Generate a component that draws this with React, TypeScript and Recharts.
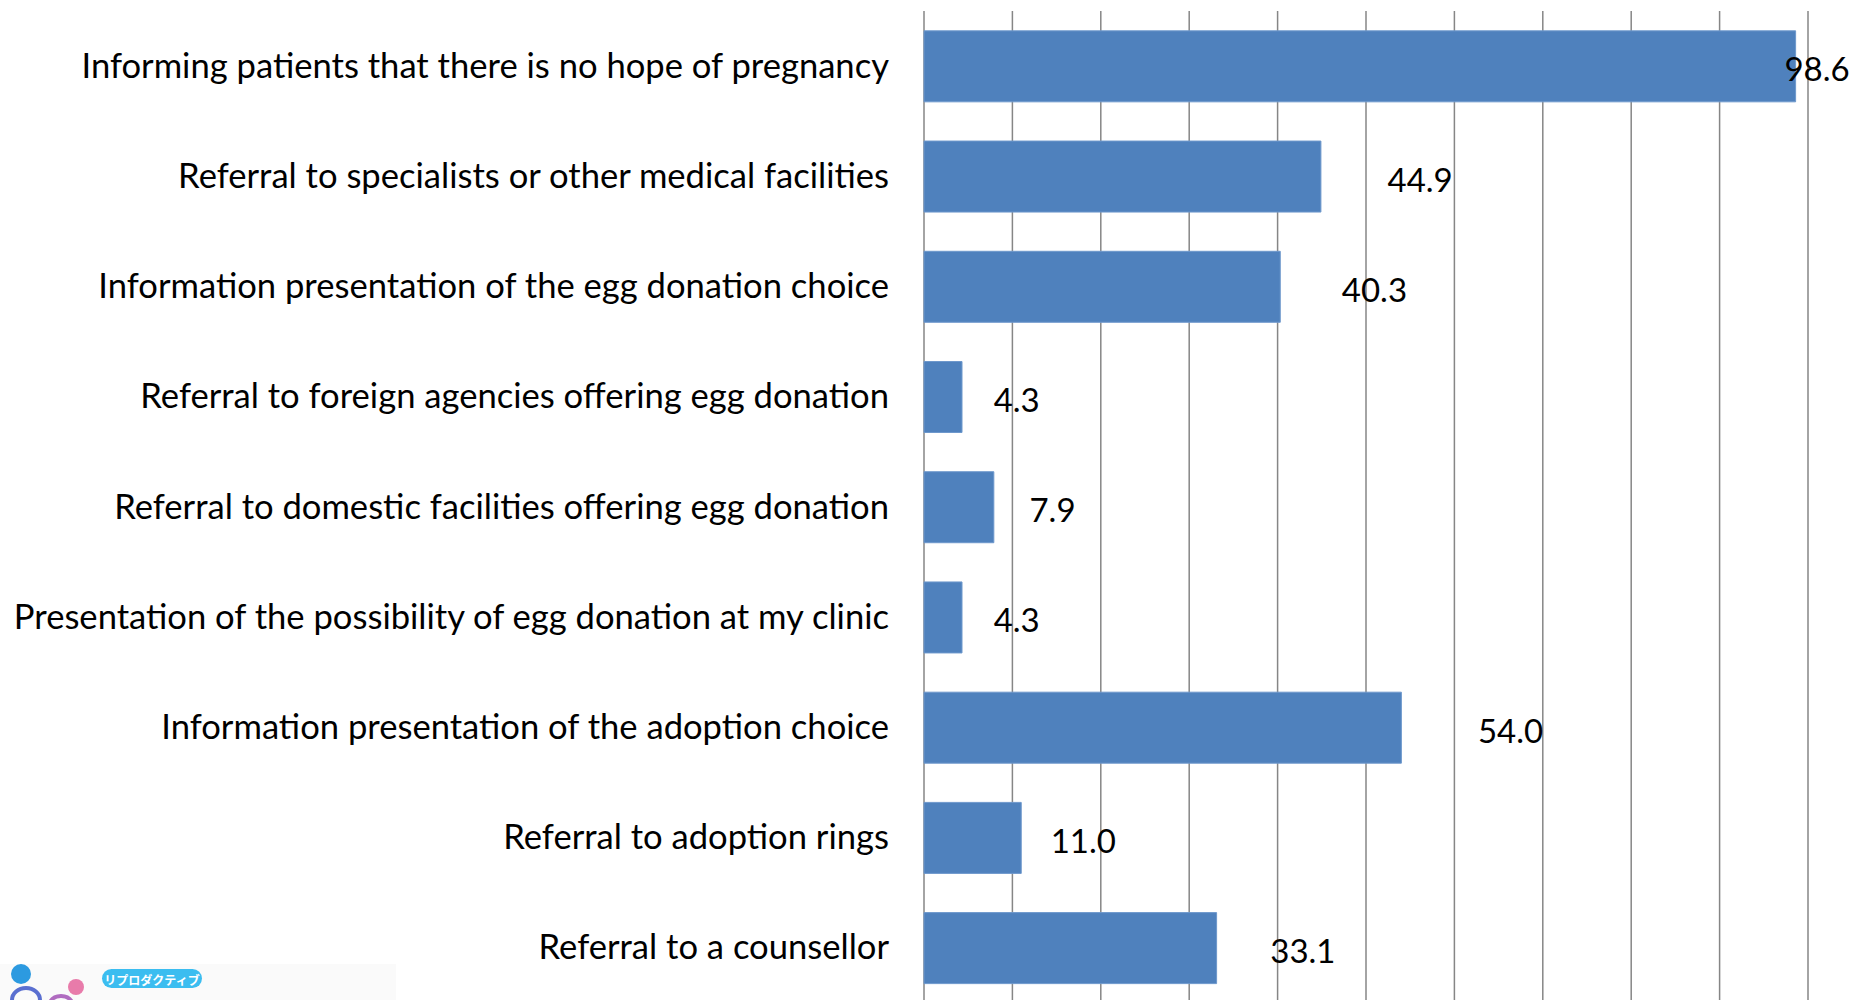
import React from 'react';
import { BarChart, Bar, XAxis, YAxis, CartesianGrid, LabelList } from 'recharts';

const categories = [
  'Informing patients that there is no hope of pregnancy',
  'Referral to specialists or other medical facilities',
  'Information presentation of the egg donation choice',
  'Referral to foreign agencies offering egg donation',
  'Referral to domestic facilities offering egg donation',
  'Presentation of the possibility of egg donation at my clinic',
  'Information presentation of the adoption choice',
  'Referral to adoption rings',
  'Referral to a counsellor',
];
const values = [98.6, 44.9, 40.3, 4.3, 7.9, 4.3, 54.0, 11.0, 33.1];
const xTicks = [0, 10, 20, 30, 40, 50, 60, 70, 80, 90, 100];
const logoBadge = 'リプロダクティブ';

const data = categories.map((name, i) => ({ name, value: values[i] }));

const CHART_W = 1856;
const CHART_H = 1010;
const FONT = 'Lato, "Open Sans", sans-serif';

const CatTick = (props: any) => {
  const { x, y, payload } = props;
  return (
    <text x={x} y={y - 2} textAnchor="end" dominantBaseline="central" fontFamily={FONT} fontSize={34.6} fill="#000">
      {payload.value}
    </text>
  );
};

const ValueLabel = (props: any) => {
  const { x, y, width, height, value } = props;
  const cx = Math.min(x + width * 1.124 + 50, CHART_W - 39);
  return (
    <text x={cx} y={y + height / 2 + 2} textAnchor="middle" dominantBaseline="central" fontFamily={FONT} fontSize={33} fill="#000">
      {Number(value).toFixed(1)}
    </text>
  );
};

export default function App() {
  return (
    <div style={{ position: 'absolute', left: 0, top: 0, width: CHART_W, height: 1000, overflow: 'hidden', background: '#fff' }}>
      <BarChart
        width={CHART_W}
        height={CHART_H}
        data={data}
        layout="vertical"
        margin={{ top: 11, right: 48, bottom: 7, left: 0 }}
        barCategoryGap="18%"
      >
        <CartesianGrid horizontal={false} vertical={true} stroke="#868686" strokeWidth={1.5} />
        <XAxis type="number" domain={[0, 100]} ticks={xTicks} hide />
        <YAxis
          type="category"
          dataKey="name"
          width={924}
          axisLine={false}
          tickLine={false}
          tickSize={0}
          tickMargin={35}
          tick={<CatTick />}
          interval={0}
        />
        <Bar dataKey="value" fill="#4F81BD" stroke="#6E98CC" strokeWidth={1} isAnimationActive={false}>
          <LabelList dataKey="value" content={<ValueLabel />} />
        </Bar>
      </BarChart>
      <svg width={400} height={40} style={{ position: 'absolute', left: 0, top: 962 }}>
        <rect x={0} y={2} width={396} height={38} fill="#fafafa" />
        <circle cx={21} cy={12} r={10} fill="#2C9AE0" />
        <circle cx={76} cy={25} r={8} fill="#E87BAA" />
        <path d="M 12 38 A 14 12 0 0 1 40 38" stroke="#5A6FD0" strokeWidth={4} fill="none" />
        <path d="M 50 40 A 12 10 0 0 1 72 40" stroke="#B06CC0" strokeWidth={4} fill="none" />
        <rect x={102} y={7} width={100} height={19} rx={9.5} fill="#3BBDF0" />
        <text x={152} y={17} textAnchor="middle" dominantBaseline="central" fontFamily='"Noto Sans CJK JP", sans-serif' fontSize={12} fontWeight={700} fill="#fff">
          {logoBadge}
        </text>
      </svg>
    </div>
  );
}
